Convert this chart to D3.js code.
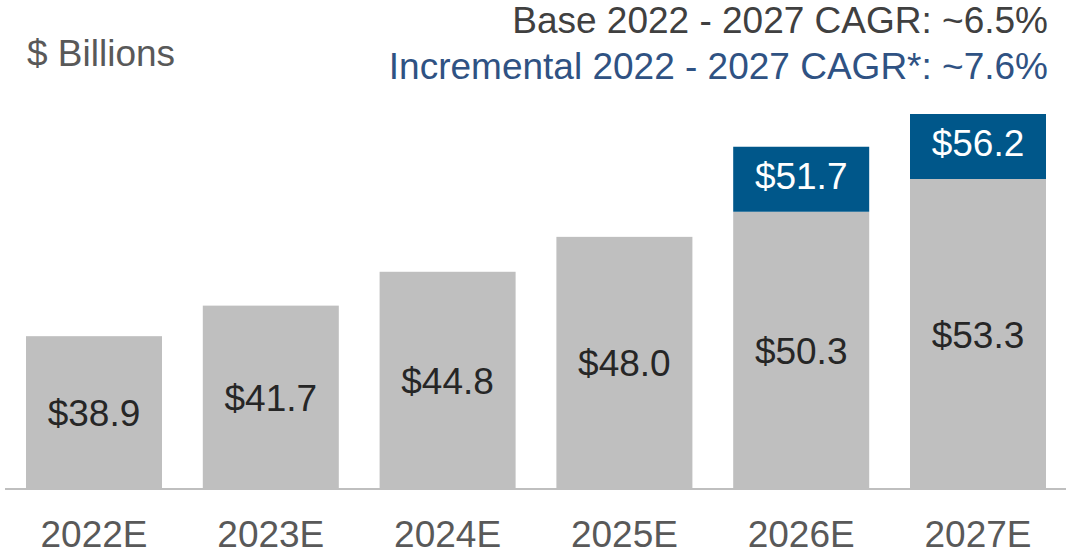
<!DOCTYPE html>
<html>
<head>
<meta charset="utf-8">
<script src="https://cdn.jsdelivr.net/npm/d3@7"></script>
<style>
  html, body { margin: 0; padding: 0; background: #fff; }
  svg { display: block; font-family: "Liberation Sans", Arial, sans-serif; }
</style>
</head>
<body>
<svg id="chart" width="1066" height="554"></svg>
<script>
// ---- data ----
const categories = ["2022E", "2023E", "2024E", "2025E", "2026E", "2027E"];
const baseValues = [38.9, 41.7, 44.8, 48.0, 50.3, 53.3];
const incrementalTotals = [null, null, null, null, 51.7, 56.2];
const unitLabel = "$ Billions";
const cagrBase = "Base 2022 - 2027 CAGR: ~6.5%";
const cagrIncremental = "Incremental 2022 - 2027 CAGR*: ~7.6%";

// ---- layout ----
const W = 1066, H = 554;
const svg = d3.select("#chart");
const baseY = 489;
const step = 176.8, barW = 136, firstX = 26;

const x = d3.scaleBand()
  .domain(categories)
  .range([firstX, firstX + step * categories.length - (step - barW)])
  .paddingInner((step - barW) / step)
  .paddingOuter(0);

const y = d3.scaleLinear().domain([24.9, 53.3]).range([baseY, 179]);

const boxH = 65;

// base bars
svg.append("g").selectAll("rect")
  .data(categories)
  .join("rect")
  .attr("x", d => x(d))
  .attr("width", x.bandwidth())
  .attr("y", (d, i) => y(baseValues[i]))
  .attr("height", (d, i) => baseY - y(baseValues[i]))
  .attr("fill", "#BFBFBF");

// base labels
svg.append("g").selectAll("text")
  .data(categories)
  .join("text")
  .attr("x", d => x(d) + x.bandwidth() / 2)
  .attr("y", (d, i) => (y(baseValues[i]) + baseY) / 2 + 13.5)
  .attr("text-anchor", "middle")
  .attr("font-size", 37)
  .attr("fill", "#262626")
  .text((d, i) => "$" + baseValues[i].toFixed(1));

// incremental boxes
const incIdx = categories.map((d, i) => i).filter(i => incrementalTotals[i] != null);
const inc = svg.append("g");
inc.selectAll("rect")
  .data(incIdx)
  .join("rect")
  .attr("x", i => x(categories[i]))
  .attr("width", x.bandwidth())
  .attr("y", i => y(baseValues[i]) - boxH)
  .attr("height", boxH)
  .attr("fill", "#00578A");
inc.selectAll("text")
  .data(incIdx)
  .join("text")
  .attr("x", i => x(categories[i]) + x.bandwidth() / 2)
  .attr("y", i => y(baseValues[i]) - boxH / 2 + 9.5)
  .attr("text-anchor", "middle")
  .attr("font-size", 37)
  .attr("fill", "#ffffff")
  .text(i => "$" + incrementalTotals[i].toFixed(1));

// axis
const xAxis = d3.axisBottom(x).tickSize(0).tickPadding(0);
const ax = svg.append("g").attr("transform", `translate(0,${baseY})`).call(xAxis);
ax.select(".domain").remove();
ax.selectAll("text")
  .attr("y", 58)
  .attr("dy", null)
  .attr("font-size", 37)
  .attr("font-family", "Liberation Sans, Arial, sans-serif")
  .attr("fill", "#595959");
svg.append("line")
  .attr("x1", 5).attr("x2", W)
  .attr("y1", baseY).attr("y2", baseY)
  .attr("stroke", "#BFBFBF").attr("stroke-width", 2);

// titles
svg.append("text").attr("x", 27).attr("y", 66)
  .attr("font-size", 37).attr("fill", "#595959").text(unitLabel);
svg.append("text").attr("x", 1048).attr("y", 33)
  .attr("text-anchor", "end").attr("font-size", 37).attr("fill", "#404040").text(cagrBase);
svg.append("text").attr("x", 1048).attr("y", 79)
  .attr("text-anchor", "end").attr("font-size", 37).attr("fill", "#2F5283").text(cagrIncremental);
</script>
</body>
</html>
